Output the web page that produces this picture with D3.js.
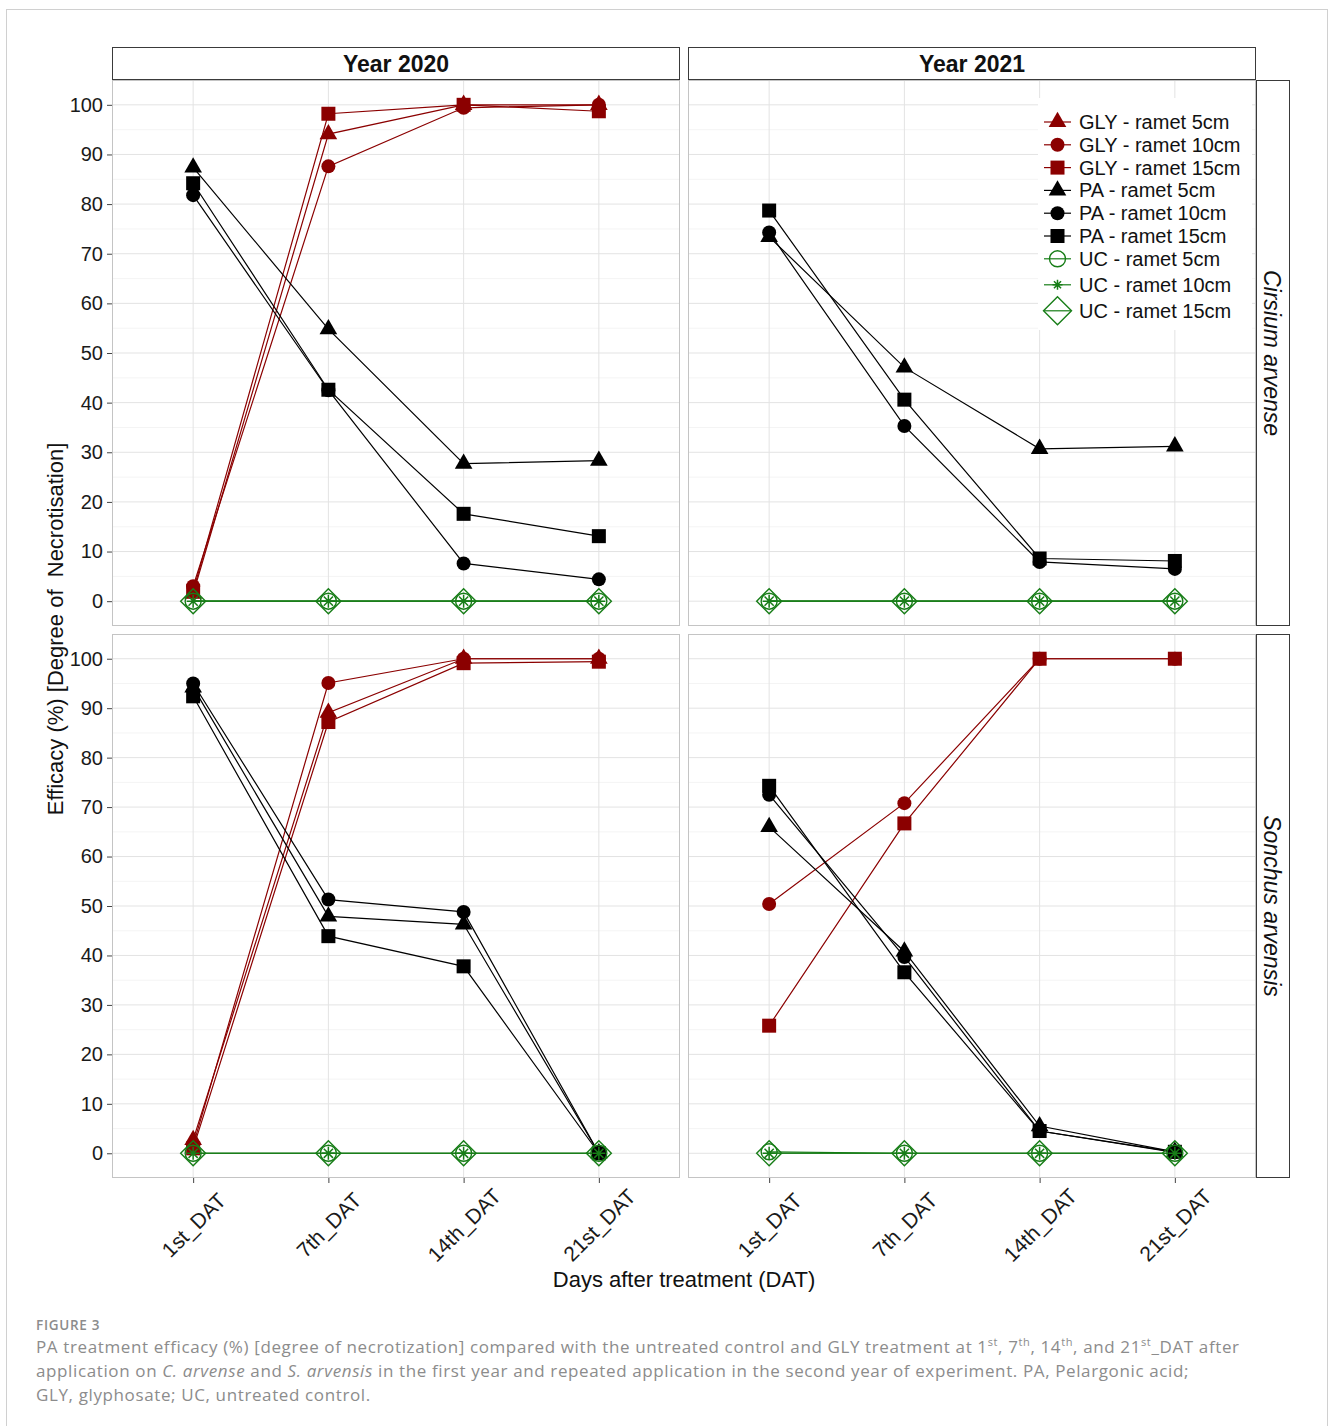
<!DOCTYPE html>
<html>
<head>
<meta charset="utf-8">
<script src="https://cdn.jsdelivr.net/npm/d3@7"></script>
<style>
  body { margin: 0; background: #fff; }
  svg { display: block; }
</style>
</head>
<body>
<svg id="fig" width="1330" height="1426"></svg>
<script>
// ---- data ----------------------------------------------------------------
const categories = ["1st_DAT", "7th_DAT", "14th_DAT", "21st_DAT"];
const years = ["Year 2020", "Year 2021"];
const species = ["Cirsium arvense", "Sonchus arvensis"];
const yTicks = [0, 10, 20, 30, 40, 50, 60, 70, 80, 90, 100];

const treatments = ["GLY", "PA", "UC"];
const rametSizes = ["5cm", "10cm", "15cm"];

// each array: [ramet 5cm, ramet 10cm, ramet 15cm], values per DAT; null = not recorded
const glyCirsium2020 = [[1.5, 94.1, 100, 100], [3.0, 87.6, 99.4, 100], [2.0, 98.2, 100, 98.7]];
const paCirsium2020  = [[87.4, 54.8, 27.7, 28.3], [81.8, 42.5, 7.6, 4.4], [84.2, 42.6, 17.6, 13.1]];
const ucCirsium2020  = [[0, 0, 0, 0], [0, 0, 0, 0], [0, 0, 0, 0]];

const glyCirsium2021 = [null, null, null];
const paCirsium2021  = [[73.4, 47.1, 30.7, 31.2], [74.3, 35.3, 7.9, 6.5], [78.7, 40.6, 8.6, 8.1]];
const ucCirsium2021  = [[0, 0, 0, 0], [0, 0, 0, 0], [0, 0, 0, 0]];

const glySonchus2020 = [[2.7, 89.1, 100, 100], [1.6, 95.1, 100, 100], [1.0, 87.2, 99.1, 99.4]];
const paSonchus2020  = [[94.2, 47.9, 46.3, 0], [95.0, 51.3, 48.8, 0], [92.4, 43.9, 37.8, 0]];
const ucSonchus2020  = [[0, 0, 0, 0], [0, 0, 0, 0], [0, 0, 0, 0]];

const glySonchus2021 = [null, [50.4, 70.8, 100, 100], [25.8, 66.7, 100, 100]];
const paSonchus2021  = [[66.0, 40.8, 5.5, 0.3], [72.5, 39.7, 4.5, 0.2], [74.3, 36.6, 4.5, 0.3]];
const ucSonchus2021  = [[0.3, 0, 0, 0], [0, 0, 0, 0], [0, 0, 0, 0]];

// panel lookup: [species][year] -> {GLY, PA, UC}
const panels = [
  [{ GLY: glyCirsium2020, PA: paCirsium2020, UC: ucCirsium2020 },
   { GLY: glyCirsium2021, PA: paCirsium2021, UC: ucCirsium2021 }],
  [{ GLY: glySonchus2020, PA: paSonchus2020, UC: ucSonchus2020 },
   { GLY: glySonchus2021, PA: paSonchus2021, UC: ucSonchus2021 }]
];

// ---- styling ---------------------------------------------------------------
const colors = { GLY: "#8b0000", PA: "#000000", UC: "#177d17" };
const shapes = {
  GLY: ["triangle", "circle", "square"],
  PA:  ["triangle", "circle", "square"],
  UC:  ["openCircle", "star", "openDiamond"]
};
const FONT = "'Liberation Sans', Arial, Helvetica, sans-serif";

const svg = d3.select("#fig");

// outer figure frame
svg.append("rect")
  .attr("x", 6.5).attr("y", 9.5).attr("width", 1321).attr("height", 1440)
  .attr("fill", "none").attr("stroke", "#d0d0d0").attr("stroke-width", 1);

const colX = [[112, 680], [688, 1256]];
const rowY = [[80, 626], [634, 1178]];

function drawMarker(g, shape, color, cx, cy, legend) {
  const t = `translate(${cx},${cy})`;
  if (shape === "triangle") {
    g.append("path").attr("d", d3.symbol(d3.symbolTriangle, 135)()).attr("transform", t).attr("fill", color);
  } else if (shape === "circle") {
    g.append("circle").attr("cx", cx).attr("cy", cy).attr("r", 7).attr("fill", color);
  } else if (shape === "square") {
    g.append("rect").attr("x", cx - 7).attr("y", cy - 7).attr("width", 14).attr("height", 14).attr("fill", color);
  } else if (shape === "openCircle") {
    g.append("circle").attr("cx", cx).attr("cy", cy).attr("r", 8)
      .attr("fill", "none").attr("stroke", color).attr("stroke-width", 1.4);
  } else if (shape === "star") {
    const r = legend ? 5 : 6.5, d = r * Math.SQRT1_2;
    g.append("path")
      .attr("d", `M${-r},0H${r}M0,${-r}V${r}M${-d},${-d}L${d},${d}M${-d},${d}L${d},${-d}`)
      .attr("transform", t).attr("fill", "none").attr("stroke", color).attr("stroke-width", 1.5);
  } else if (shape === "openDiamond") {
    const r = legend ? 14 : 12.5;
    g.append("path").attr("d", `M0,${-r}L${r},0L0,${r}L${-r},0Z`).attr("transform", t)
      .attr("fill", "none").attr("stroke", color).attr("stroke-width", 1.4);
  }
}

const gridMinor = d3.range(-5, 106, 5).filter(v => v % 10 !== 0 && v > -5 && v < 105);

species.forEach((sp, r) => {
  years.forEach((yr, c) => {
    const [x0, x1] = colX[c];
    const [y0, y1] = rowY[r];
    const x = d3.scalePoint().domain(categories).range([x0, x1]).padding(0.6);
    const y = d3.scaleLinear().domain([-5, 105]).range([y1, y0]);
    const g = svg.append("g");

    g.append("rect").attr("x", x0).attr("y", y0).attr("width", x1 - x0).attr("height", y1 - y0).attr("fill", "#fff");
    // grid
    g.selectAll(null).data(gridMinor).join("line")
      .attr("x1", x0).attr("x2", x1).attr("y1", d => y(d)).attr("y2", d => y(d))
      .attr("stroke", "#f1f1f1").attr("stroke-width", 0.8);
    g.selectAll(null).data(yTicks).join("line")
      .attr("x1", x0).attr("x2", x1).attr("y1", d => y(d)).attr("y2", d => y(d))
      .attr("stroke", "#e3e3e3").attr("stroke-width", 1);
    g.selectAll(null).data(categories).join("line")
      .attr("x1", d => x(d)).attr("x2", d => x(d)).attr("y1", y0).attr("y2", y1)
      .attr("stroke", "#e3e3e3").attr("stroke-width", 1);

    const data = panels[r][c];
    const line = d3.line().defined(d => d[1] != null).x(d => x(d[0])).y(d => y(d[1]));
    // lines first, then points
    treatments.forEach(tr => {
      data[tr].forEach((vals, k) => {
        if (!vals) return;
        g.append("path").datum(categories.map((cat, i) => [cat, vals[i]]))
          .attr("d", line).attr("fill", "none").attr("stroke", colors[tr]).attr("stroke-width", 1.2);
      });
    });
    treatments.forEach(tr => {
      data[tr].forEach((vals, k) => {
        if (!vals) return;
        categories.forEach((cat, i) => {
          if (vals[i] == null) return;
          drawMarker(g, shapes[tr][k], colors[tr], x(cat), y(vals[i]), false);
        });
      });
    });

    // panel border
    g.append("rect").attr("x", x0 + 0.5).attr("y", y0 + 0.5).attr("width", x1 - x0 - 1).attr("height", y1 - y0 - 1)
      .attr("fill", "none").attr("stroke", "#c4c4c4").attr("stroke-width", 1);

    // y axis on the left column
    if (c === 0) {
      const ax = svg.append("g").attr("transform", `translate(${x0},0)`)
        .call(d3.axisLeft(y).tickValues(yTicks).tickSize(5).tickPadding(4));
      ax.select(".domain").remove();
      ax.selectAll(".tick line").attr("stroke", "#444");
      ax.selectAll(".tick text").attr("font-family", FONT).attr("font-size", 20).attr("fill", "#1a1a1a");
    }
    // x axis on the bottom row
    if (r === species.length - 1) {
      const ax = svg.append("g").attr("transform", `translate(0,${y1})`)
        .call(d3.axisBottom(x).tickSize(5));
      ax.select(".domain").remove();
      ax.selectAll(".tick line").attr("stroke", "#444");
      ax.selectAll(".tick text")
        .attr("font-family", FONT).attr("font-size", 21).attr("fill", "#1a1a1a")
        .attr("text-anchor", "middle").attr("dy", null).attr("y", 0)
        .attr("transform", "translate(0,47) rotate(-45)")
        .attr("dominant-baseline", "central");
    }
    // top strips
    if (r === 0) {
      svg.append("rect").attr("x", x0 + 0.5).attr("y", 47.5).attr("width", x1 - x0 - 1).attr("height", 32)
        .attr("fill", "#fff").attr("stroke", "#3a3a3a").attr("stroke-width", 1);
      svg.append("text").attr("x", (x0 + x1) / 2).attr("y", 64).attr("dominant-baseline", "central")
        .attr("text-anchor", "middle").attr("font-family", FONT).attr("font-weight", "bold")
        .attr("font-size", 23).attr("fill", "#111").text(yr);
    }
    // right strips
    if (c === years.length - 1) {
      svg.append("rect").attr("x", 1256.5).attr("y", y0 + 0.5).attr("width", 33).attr("height", y1 - y0 - 1)
        .attr("fill", "#fff").attr("stroke", "#3a3a3a").attr("stroke-width", 1);
      svg.append("text").attr("transform", `translate(1272,${(y0 + y1) / 2}) rotate(90)`)
        .attr("dominant-baseline", "central").attr("text-anchor", "middle")
        .attr("font-family", FONT).attr("font-style", "italic").attr("font-size", 23)
        .attr("fill", "#111").text(sp);
    }
  });
});

// axis titles
svg.append("text").attr("x", 684).attr("y", 1279).attr("text-anchor", "middle")
  .attr("dominant-baseline", "central").attr("font-family", FONT).attr("font-size", 22)
  .attr("fill", "#111").text("Days after treatment (DAT)");
svg.append("text").attr("transform", "translate(55,629) rotate(-90)").attr("text-anchor", "middle")
  .attr("dominant-baseline", "central").attr("font-family", FONT).attr("font-size", 22)
  .attr("fill", "#111").attr("xml:space", "preserve").style("white-space", "pre")
  .text("Efficacy (%) [Degree of  Necrotisation]");

// legend inside the top-right panel
const legendItems = [];
treatments.forEach(tr => rametSizes.forEach((rs, k) => legendItems.push({ tr, k, label: `${tr} - ramet ${rs}` })));
const rowHeights = legendItems.map(d => d.tr === "UC" && d.k > 0 ? 26 : 22.8);
const lg = svg.append("g");
lg.append("rect").attr("x", 1038).attr("y", 98).attr("width", 214).attr("height", 232).attr("fill", "#fff");
let ly = 122;
legendItems.forEach((d, i) => {
  if (i > 0) ly += rowHeights[i];
  const cy = ly;
  lg.append("line").attr("x1", 1044).attr("x2", 1071).attr("y1", cy).attr("y2", cy)
    .attr("stroke", colors[d.tr]).attr("stroke-width", 1.2);
  drawMarker(lg, shapes[d.tr][d.k], colors[d.tr], 1057.5, cy, true);
  lg.append("text").attr("x", 1079).attr("y", cy).attr("dominant-baseline", "central")
    .attr("font-family", FONT).attr("font-size", 20).attr("fill", "#111").text(d.label);
});

// caption
const CAP = "'Open Sans', 'Noto Sans', sans-serif";
const capColor = "#8c8c8c";
svg.append("text").attr("x", 36).attr("y", 1330).attr("font-family", CAP).attr("font-size", 13.5)
  .attr("font-weight", 600).attr("letter-spacing", 0.7).attr("fill", capColor).text("FIGURE 3");

function capLine(yPos, parts) {
  const t = svg.append("text").attr("x", 36).attr("y", yPos).attr("font-family", CAP)
    .attr("font-size", 17).attr("letter-spacing", 0.62).attr("fill", capColor).attr("xml:space", "preserve");
  parts.forEach(p => {
    const s = t.append("tspan").text(p.t);
    if (p.i) s.attr("font-style", "italic");
    if (p.sup) s.attr("font-size", 11).attr("dy", -7);
    if (p.after) s.attr("dy", 7);
  });
}
capLine(1353, [
  { t: "PA treatment efficacy (%) [degree of necrotization] compared with the untreated control and GLY treatment at 1" },
  { t: "st", sup: true }, { t: ", 7", after: true }, { t: "th", sup: true }, { t: ", 14", after: true },
  { t: "th", sup: true }, { t: ", and 21", after: true }, { t: "st", sup: true }, { t: "_DAT after", after: true }
]);
capLine(1377, [
  { t: "application on " }, { t: "C. arvense", i: true }, { t: " and " }, { t: "S. arvensis", i: true },
  { t: " in the first year and repeated application in the second year of experiment. PA, Pelargonic acid;" }
]);
capLine(1401, [{ t: "GLY, glyphosate; UC, untreated control." }]);
</script>
</body>
</html>
